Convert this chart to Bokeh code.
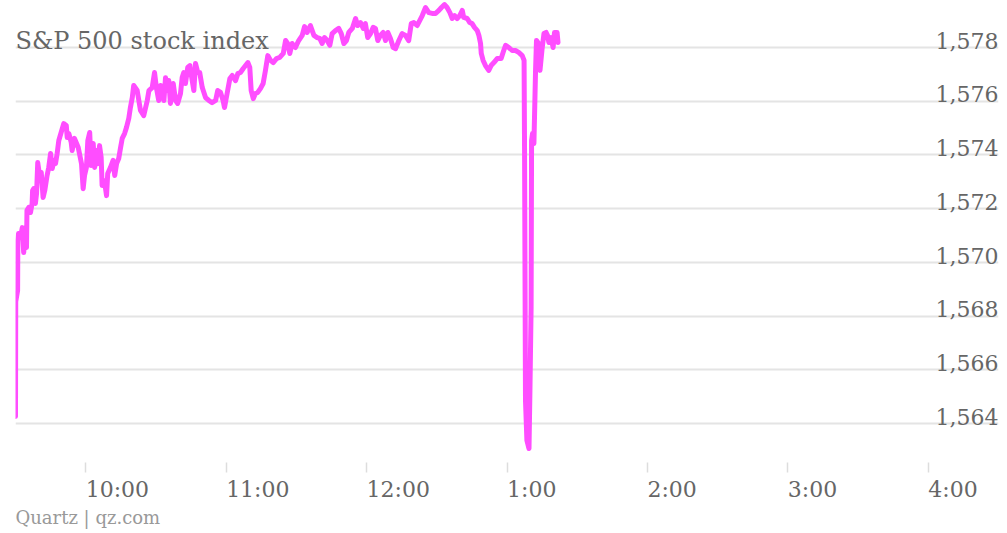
from bokeh.plotting import figure
from bokeh.models import FixedTicker, Label, Title, Range1d, LinearAxis
from bokeh.core.properties import value
from bokeh.embed import file_html
from bokeh.resources import INLINE

# minutes after 9:30 am
minutes = [0, 0.1, 0.9, 1.0, 1.3, 2.1, 2.9, 3.5, 4.3, 4.7, 4.9, 5.7, 6.4, 7.1, 7.3, 7.8, 8.5, 9.0, 9.5,
           10.4, 11.0, 11.8, 12.5, 13.5, 14.2, 15.0, 15.7, 16.4, 17.1, 17.8, 18.5, 19.5, 20.6, 21.7,
           22.1, 22.8, 23.8, 24.2, 25.2, 26.1, 26.8, 27.5, 28.2, 28.9, 29.5, 30.3, 30.9, 31.7, 32.3,
           33.2, 33.8, 34.6, 35.3, 35.9, 36.6, 37.0, 38.0, 38.9, 39.4, 40.6, 41.7, 42.4, 43.2, 44.1,
           44.9, 45.6, 46.6, 47.4, 48.4, 49.1, 49.9, 50.5, 52.0, 53.4, 54.8, 56.3, 57.0, 58.4, 59.4,
           60.2, 61.2, 62.0, 63.4, 64.1, 64.8, 65.5, 66.2, 67.4, 68.4, 69.3, 70.5, 71.2, 71.9, 72.6,
           73.6, 74.5, 75.5, 76.2, 76.9, 77.9, 78.7, 79.8, 81.2, 82.6, 84.0, 85.5, 86.4, 87.6, 88.7,
           89.3, 90.5, 91.6, 92.6, 94.0, 95.0, 96.1, 97.3, 98.3, 99.3, 100.1, 100.7, 101.6, 102.5,
           103.5, 104.7, 105.8, 106.8, 107.8, 109.0, 110.1, 111.5, 112.9, 114.4, 115.4, 116.3, 117.2,
           118.2, 119.6, 121.0, 122.5, 123.5, 124.6, 126.0, 127.5, 128.9, 130.0, 131.0, 132.0, 133.2,
           134.3, 135.3, 136.7, 138.1, 139.2, 140.3, 141.4, 142.4, 143.9, 145.3, 146.2, 147.4, 148.6,
           149.5, 150.5, 151.7, 152.8, 153.8, 154.8, 155.9, 157.1, 158.1, 159.1, 160.2, 161.4, 162.4,
           163.8, 165.2, 166.6, 168.0, 169.1, 170.2, 171.6, 172.7, 173.8, 175.2, 176.6, 178.0, 179.5,
           180.9, 182.0, 183.3, 184.4, 185.6, 186.6, 187.6, 188.7, 189.8, 190.9, 191.5, 193.0, 194.1,
           195.1, 196.1, 197.3, 198.0, 198.7, 199.0, 199.8, 200.8, 202.2, 203.2, 204.4, 205.8, 207.5,
           208.6, 209.4, 210.8, 212.2, 213.6, 215.0, 216.5, 217.3, 217.5, 217.9, 218.5, 219.4, 219.8,
           220.3, 220.5, 220.9, 221.5, 222.2, 222.6, 223.5, 224.1, 225.0, 225.8, 226.7, 227.3, 227.9,
           228.8, 229.7, 230.3, 231.4, 231.8]
prices = [1564.26, 1568.54, 1568.95, 1570.81, 1571.07, 1570.92, 1571.29, 1570.36, 1571.29, 1570.55,
          1571.93, 1572.04, 1571.85, 1572.19, 1572.67, 1572.74, 1572.19, 1572.56, 1573.71, 1573.15,
          1573.34, 1572.41, 1572.67, 1573.23, 1573.53, 1574.05, 1573.49, 1573.79, 1573.67, 1574.05,
          1574.53, 1574.83, 1575.16, 1575.09, 1574.64, 1574.79, 1574.46, 1574.16, 1574.61, 1574.42,
          1574.27, 1573.97, 1573.67, 1572.74, 1573.23, 1573.53, 1574.53, 1574.83, 1573.60, 1574.42,
          1573.53, 1574.16, 1573.67, 1574.34, 1573.90, 1572.86, 1573.04, 1572.48, 1573.30, 1573.53,
          1573.79, 1573.23, 1573.67, 1573.86, 1574.27, 1574.61, 1574.79, 1575.01, 1575.35, 1575.76,
          1576.13, 1576.58, 1576.39, 1575.65, 1575.46, 1576.02, 1576.39, 1576.50, 1577.06, 1576.50,
          1576.02, 1576.58, 1576.02, 1576.87, 1576.39, 1576.76, 1575.91, 1576.65, 1576.02, 1575.91,
          1576.28, 1576.87, 1577.06, 1576.65, 1577.25, 1577.32, 1576.76, 1576.39, 1577.40, 1577.06,
          1577.06, 1576.50, 1576.13, 1576.02, 1575.94, 1576.02, 1576.39, 1576.32, 1576.02, 1575.76,
          1576.32, 1576.84, 1576.95, 1576.76, 1577.02, 1577.06, 1577.21, 1577.32, 1577.43, 1577.25,
          1576.39, 1576.09, 1576.28, 1576.32, 1576.47, 1576.65, 1577.14, 1577.69, 1577.51, 1577.43,
          1577.58, 1577.62, 1577.77, 1578.25, 1578.14, 1577.77, 1578.14, 1577.99, 1578.25, 1578.44,
          1578.77, 1578.55, 1578.81, 1578.44, 1578.36, 1578.33, 1578.14, 1578.36, 1578.25, 1578.07,
          1578.51, 1578.62, 1578.70, 1578.51, 1578.14, 1578.25, 1578.55, 1578.70, 1579.07, 1578.81,
          1578.92, 1578.70, 1578.88, 1578.36, 1578.51, 1578.74, 1578.70, 1578.25, 1578.44, 1578.55,
          1578.25, 1578.55, 1578.33, 1577.99, 1577.95, 1578.25, 1578.51, 1578.44, 1578.25, 1578.88,
          1578.92, 1578.81, 1578.99, 1579.18, 1579.48, 1579.29, 1579.26, 1579.26, 1579.37, 1579.48,
          1579.59, 1579.48, 1579.29, 1579.07, 1579.18, 1579.07, 1579.18, 1579.37, 1579.11, 1579.07,
          1578.92, 1578.88, 1578.74, 1578.62, 1578.44, 1578.14, 1577.77, 1577.51, 1577.32, 1577.14,
          1577.32, 1577.43, 1577.58, 1577.58, 1577.88, 1578.07, 1577.99, 1577.88, 1577.88, 1577.81,
          1577.69, 1577.51, 1574.16, 1564.86, 1563.37, 1563.07, 1565.23, 1568.32, 1574.53, 1574.79,
          1574.42, 1577.14, 1578.25, 1578.14, 1577.14, 1577.95, 1578.51, 1578.55, 1578.44, 1578.18,
          1578.36, 1577.99, 1578.55, 1578.55, 1578.18]

x_ticks = [10, 11, 12, 13, 14, 15, 16]
x_tick_labels = ["10:00", "11:00", "12:00", "1:00", "2:00", "3:00", "4:00"]
y_ticks = [1564, 1566, 1568, 1570, 1572, 1574, 1576, 1578]
y_tick_labels = ["1,564", "1,566", "1,568", "1,570", "1,572", "1,574", "1,576", "1,578"]
title_text = "S&P 500 stock index"
source_text = "Quartz | qz.com"

hours = [9.5 + m / 60.0 for m in minutes]

FONT = "DejaVu Serif"
TXT = "#666666"
LABEL_PX = 22
X0, X1 = 9.5, 16.5
FRAME_W = 1007 - 15 - 9
PX_PER_H = FRAME_W / (X1 - X0)

p = figure(width=1007, height=533, output_backend="svg", toolbar_location=None,
           x_range=Range1d(X0, X1), y_range=Range1d(1562.55, 1579.74),
           y_axis_location=None,
           min_border_left=15, min_border_right=9, min_border_top=0, min_border_bottom=71)
p.outline_line_color = None
p.background_fill_color = "white"
p.border_fill_color = "white"

p.xgrid.visible = False
p.ygrid.ticker = FixedTicker(ticks=y_ticks)
p.ygrid.grid_line_color = "#e4e4e4"
p.ygrid.grid_line_width = 2

# axis 1: tick marks only
ax = p.xaxis[0]
ax.ticker = FixedTicker(ticks=x_ticks)
ax.major_label_overrides = {t: "" for t in x_ticks}
ax.major_label_text_font_size = "0px"
ax.major_label_standoff = 0
ax.axis_line_color = None
ax.major_tick_line_color = "#dddddd"
ax.major_tick_line_width = 1.5
ax.major_tick_in = 0
ax.major_tick_out = 10
ax.minor_tick_line_color = None


# axis 2: labels, left-aligned to each hour tick (label centre shifted by half its width)
def half_width_h(s):
    em = sum(0.337 if ch == ":" else 0.636 for ch in s)
    return round(em * LABEL_PX / 2.0 / PX_PER_H, 4)


label_pos = [round(t + half_width_h(s), 4) for t, s in zip(x_ticks, x_tick_labels)]
lab_axis = LinearAxis(ticker=FixedTicker(ticks=label_pos),
                      major_label_overrides={pos: s for pos, s in zip(label_pos, x_tick_labels)},
                      axis_line_color=None, major_tick_line_color=None, major_tick_in=0,
                      major_tick_out=0, minor_tick_line_color=None,
                      major_label_text_font=FONT, major_label_text_font_size=f"{LABEL_PX}px",
                      major_label_text_color=TXT, major_label_standoff=4)
p.add_layout(lab_axis, "below")

p.line(hours, prices, line_width=5, line_color="#ff4dff", line_join="round", line_cap="round")

p.text(x=[X1] * len(y_ticks), y=[t + 0.25 for t in y_ticks], text=y_tick_labels,
       text_align="right", text_baseline="alphabetic", text_font=value(FONT),
       text_font_size="22px", text_color=TXT)

p.add_layout(Label(x=X0, y=y_ticks[-1] + 0.25, text=title_text, text_font=FONT,
                   text_font_size="24px", text_color=TXT, text_baseline="alphabetic"))

footer = Title(text=source_text, align="left", text_font=FONT, text_font_size="18px",
               text_color="#999999", text_font_style="normal", standoff=0, offset=0)
p.add_layout(footer, "below")

open("out.html", "w").write(file_html(p, INLINE))
